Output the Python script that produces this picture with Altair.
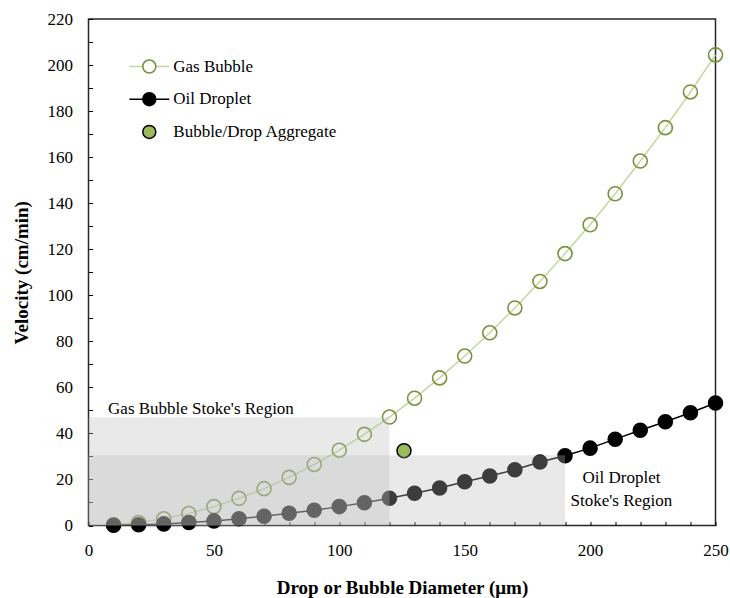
import altair as alt
import pandas as pd

# ---------------- data ----------------
diameters = [10, 20, 30, 40, 50, 60, 70, 80, 90, 100, 110, 120, 130,
             140, 150, 160, 170, 180, 190, 200, 210, 220, 230, 240, 250]
gas_velocity = [0.3, 1.3, 2.9, 5.2, 8.2, 11.8, 16.0, 20.9, 26.5, 32.7, 39.6, 47.1, 55.3,
                64.1, 73.6, 83.7, 94.5, 106.0, 118.1, 130.6, 144.1, 158.3, 172.8, 188.3, 204.4]
oil_velocity = [0.1, 0.3, 0.7, 1.3, 2.0, 2.9, 4.0, 5.3, 6.6, 8.2, 9.9, 11.8, 14.0,
                16.3, 19.0, 21.5, 24.2, 27.6, 30.3, 33.6, 37.5, 41.4, 45.1, 49.0, 53.2]
aggregate_x = [125.8]
aggregate_y = [32.5]
series_names = ["Gas Bubble", "Oil Droplet", "Bubble/Drop Aggregate"]

region_names = ["Gas Bubble Stoke's Region", "Oil Droplet Stoke's Region"]
region_x_end = [120, 190]
region_y_end = [47.0, 30.5]

left_labels = ["Gas Bubble Stoke's Region"]
left_label_x = [7.8]
left_label_y = [50.6]
center_labels = ["Oil Droplet", "Stoke's Region"]
center_label_x = [212.5, 212.5]
center_label_y = [20.8, 10.8]

x_ticks = list(range(0, 251, 10))
y_ticks = list(range(0, 221, 10))

# ---------------- tables ----------------
df_lines = pd.DataFrame({
    "series": [series_names[0]] * len(diameters) + [series_names[1]] * len(diameters),
    "d": diameters + diameters,
    "v": gas_velocity + oil_velocity,
})
df_points = pd.concat([
    df_lines,
    pd.DataFrame({"series": [series_names[2]], "d": aggregate_x, "v": aggregate_y}),
], ignore_index=True)
df_regions = pd.DataFrame({
    "region": region_names,
    "x0": [0, 0], "x1": region_x_end,
    "y0": [0, 0], "y1": region_y_end,
})
df_left = pd.DataFrame({"t": left_labels, "d": left_label_x, "v": left_label_y})
df_center = pd.DataFrame({"t": center_labels, "d": center_label_x, "v": center_label_y})

FONT = "Liberation Serif"
FS = 17
TFS = 19

x_scale = alt.Scale(domain=[0, 250], nice=False, zero=False)
y_scale = alt.Scale(domain=[0, 220], nice=False, zero=False)

x_axis = alt.Axis(values=x_ticks, labelExpr="datum.value % 50 === 0 ? datum.label : ''",
                  offset=-4, tickSize=4, tickColor="black", tickWidth=1,
                  domain=False, grid=False, labelFlush=False, labelOverlap=False,
                  labelPadding=17, title="Drop or Bubble Diameter (μm)", titlePadding=20)
y_axis = alt.Axis(values=y_ticks, labelExpr="datum.value % 20 === 0 ? datum.label : ''",
                  offset=-4, tickSize=4, tickColor="black", tickWidth=1,
                  domain=False, grid=False, labelOverlap=False,
                  labelPadding=16, title="Velocity (cm/min)", titlePadding=16)

X = alt.X("d:Q", scale=x_scale, axis=x_axis)
Y = alt.Y("v:Q", scale=y_scale, axis=y_axis)

legend_common = dict(orient="none", legendX=39.8, legendY=37.5, padding=0, title=None,
                     clipHeight=20, rowPadding=12.7, labelOffset=3.0, symbolSize=1600,
                     direction="vertical", labelFont=FONT, labelFontSize=FS,
                     labelLimit=400)

line_legend = alt.Legend(symbolType="M-1,0L-0.33,0M0.33,0L1,0", symbolStrokeWidth=1.5,
                         labelColor="transparent", **legend_common)
circle_path = "M-0.325,0A0.325,0.325,0,1,1,0.325,0A0.325,0.325,0,1,1,-0.325,0Z"
point_legend = alt.Legend(symbolType=circle_path, labelColor="black", **legend_common)

lines = alt.Chart(df_lines).mark_line(strokeWidth=1.5).encode(
    x=X, y=Y,
    color=alt.Color("series:N",
                    scale=alt.Scale(domain=series_names[:2], range=["#c4d79b", "#000000"]),
                    legend=line_legend),
)

points = alt.Chart(df_points).mark_point(size=196, filled=True, opacity=1).encode(
    x=X, y=Y,
    fill=alt.Fill("series:N",
                  scale=alt.Scale(domain=series_names, range=["transparent", "#000000", "#9bbb59"]),
                  legend=point_legend),
    stroke=alt.Stroke("series:N",
                      scale=alt.Scale(domain=series_names, range=["#77933c", "#000000", "#000000"]),
                      legend=point_legend),
    strokeWidth=alt.StrokeWidth("series:N",
                                scale=alt.Scale(domain=series_names, range=[1.6, 1.5, 2.6]),
                                legend=point_legend),
)

regions = alt.Chart(df_regions).mark_rect(fill="#bbbbbb", opacity=0.32).encode(
    x=alt.X("x0:Q", scale=x_scale, axis=x_axis), x2="x1:Q",
    y=alt.Y("y0:Q", scale=y_scale, axis=y_axis), y2="y1:Q",
)

text_left = alt.Chart(df_left).mark_text(align="left", baseline="middle", font=FONT,
                                         fontSize=FS, color="black").encode(
    x=X, y=Y, text="t:N")
text_center = alt.Chart(df_center).mark_text(align="center", baseline="middle", font=FONT,
                                             fontSize=FS, color="black").encode(
    x=X, y=Y, text="t:N")

chart = alt.layer(lines, points, regions, text_left, text_center).properties(
    width=627, height=506.5,
    autosize=alt.AutoSizeParams(type="none"),
    padding={"left": 88.5, "top": 19, "right": 14.5, "bottom": 72.5},
).configure_view(
    stroke="#262626", strokeWidth=1.5
).configure_axis(
    labelFont=FONT, labelFontSize=FS, labelColor="black",
    titleFont=FONT, titleFontSize=TFS, titleFontWeight="bold", titleColor="black",
).configure_legend(
    labelFont=FONT, labelFontSize=FS
)

chart.save("out.html", embed_options={"renderer": "svg", "actions": False})
